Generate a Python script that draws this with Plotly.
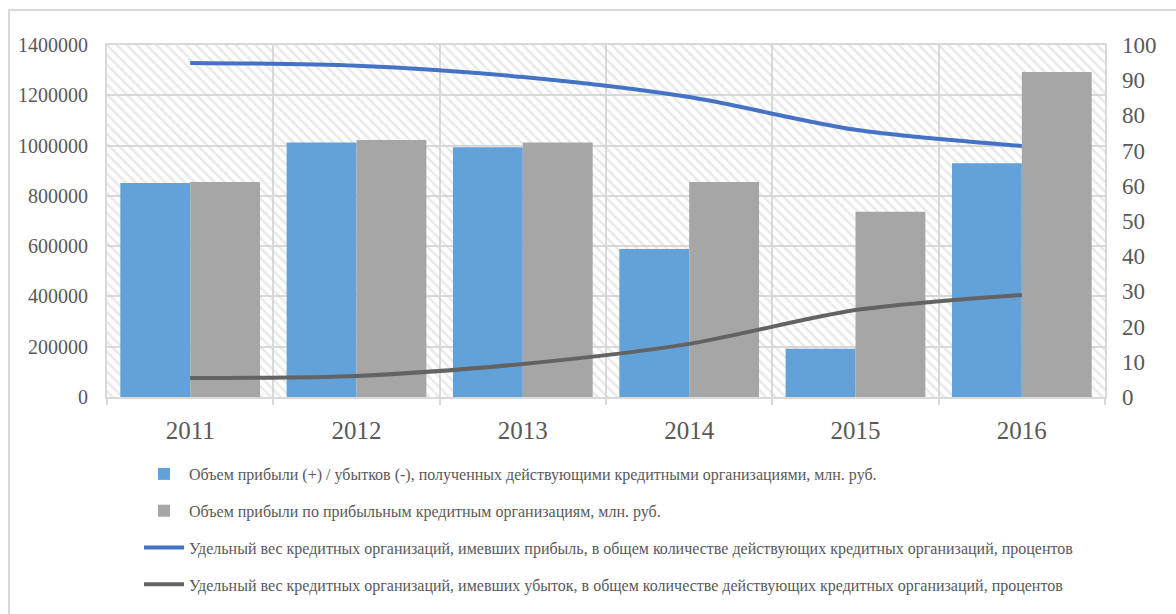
import plotly.graph_objects as go

years = ["2011", "2012", "2013", "2014", "2015", "2016"]
profit_loss = [851000, 1012000, 993000, 589000, 192000, 930000]
profit_profitable = [855000, 1022000, 1012000, 855000, 737000, 1293000]
share_profit = [94.9, 94.1, 90.9, 85.2, 75.9, 71.3]
share_loss = [5.4, 6.0, 9.4, 15.1, 24.7, 29.0]

names = [
    "Объем прибыли (+) / убытков (-), полученных действующими кредитными организациями, млн. руб.",
    "Объем прибыли по прибыльным кредитным организациям, млн. руб.",
    "Удельный вес кредитных организаций, имевших прибыль, в общем количестве действующих кредитных организаций, процентов",
    "Удельный вес кредитных организаций, имевших убыток, в общем количестве действующих кредитных организаций, процентов",
]

FONT = "Liberation Serif"
TXT = "#595959"
GRID = "#d9d9d9"

fig = go.Figure()

# hatched plot-area background (base subplot, hidden axes)
fig.add_trace(go.Bar(
    x=[0.5], y=[1], width=[1], xaxis="x", yaxis="y",
    marker=dict(color="rgba(0,0,0,0)", line=dict(width=0),
                pattern=dict(shape="\\", fgcolor="#d2d2d2", bgcolor="rgba(0,0,0,0)",
                             size=7, solidity=0.35)),
    showlegend=False, hoverinfo="skip",
))

fig.add_trace(go.Bar(
    x=years, y=profit_loss, name=names[0], xaxis="x2", yaxis="y2",
    marker=dict(color="#62a2d8", line=dict(width=0)), legendgroup="a",
))
fig.add_trace(go.Bar(
    x=years, y=profit_profitable, name=names[1], xaxis="x2", yaxis="y2",
    marker=dict(color="#a6a6a6", line=dict(width=0)), legendgroup="b",
))
fig.add_trace(go.Scatter(
    x=years, y=share_profit, name=names[2], xaxis="x2", yaxis="y3",
    mode="lines", line=dict(color="#4472c4", width=4, shape="spline", smoothing=0.8),
    legendgroup="c",
))
fig.add_trace(go.Scatter(
    x=years, y=share_loss, name=names[3], xaxis="x2", yaxis="y3",
    mode="lines", line=dict(color="#636363", width=4, shape="spline", smoothing=0.8),
    legendgroup="d",
))

L, R, T, B = 107, 71, 45, 217
W, H = 1176, 614
pw, ph = W - L - R, H - T - B

def px_x(p):
    return (p - L) / pw

def px_y(p):
    return (H - B - p) / ph

fig.update_layout(
    width=W, height=H,
    margin=dict(l=L, r=R, t=T, b=B, autoexpand=False),
    paper_bgcolor="white", plot_bgcolor="rgba(0,0,0,0)",
    barmode="group", bargap=0.16, bargroupgap=0,
    font=dict(family=FONT, color=TXT),
    xaxis=dict(range=[0, 1], visible=False, fixedrange=True),
    yaxis=dict(range=[0, 1], visible=False, fixedrange=True),
    xaxis2=dict(overlaying="x", anchor="y2", type="category",
                tickson="boundaries", showgrid=True, gridcolor=GRID, gridwidth=2,
                ticks="outside", ticklen=6, tickcolor=GRID, tickwidth=2,
                showline=True, linecolor=GRID, linewidth=2, mirror=True,
                ticklabelstandoff=10,
                tickfont=dict(family=FONT, size=25, color=TXT)),
    yaxis2=dict(overlaying="y", anchor="x2", side="left",
                range=[0, 1400000], dtick=200000, tickformat="d",
                showgrid=True, gridcolor=GRID, gridwidth=2,
                showline=True, linecolor=GRID, linewidth=2, mirror=True,
                zeroline=False, ticks="", ticklabelstandoff=13,
                tickfont=dict(family=FONT, size=20, color=TXT)),
    yaxis3=dict(overlaying="y", anchor="x2", side="right",
                range=[0, 100], dtick=10, showgrid=False, zeroline=False,
                ticks="", ticklabelstandoff=16,
                tickfont=dict(family=FONT, size=23, color=TXT)),
    legend=dict(xref="container", yref="container",
                x=139 / W, y=1 - 457 / H, xanchor="left", yanchor="top",
                orientation="v", traceorder="grouped", tracegroupgap=13,
                font=dict(family=FONT, size=16, color=TXT),
                bgcolor="rgba(0,0,0,0)", itemwidth=40),
    shapes=[dict(type="rect", xref="paper", yref="paper",
                 x0=px_x(9), x1=px_x(1190), y0=px_y(660), y1=px_y(10),
                 line=dict(color=GRID, width=2), fillcolor="rgba(0,0,0,0)",
                 layer="below")],
)

fig.write_html("out.html")
